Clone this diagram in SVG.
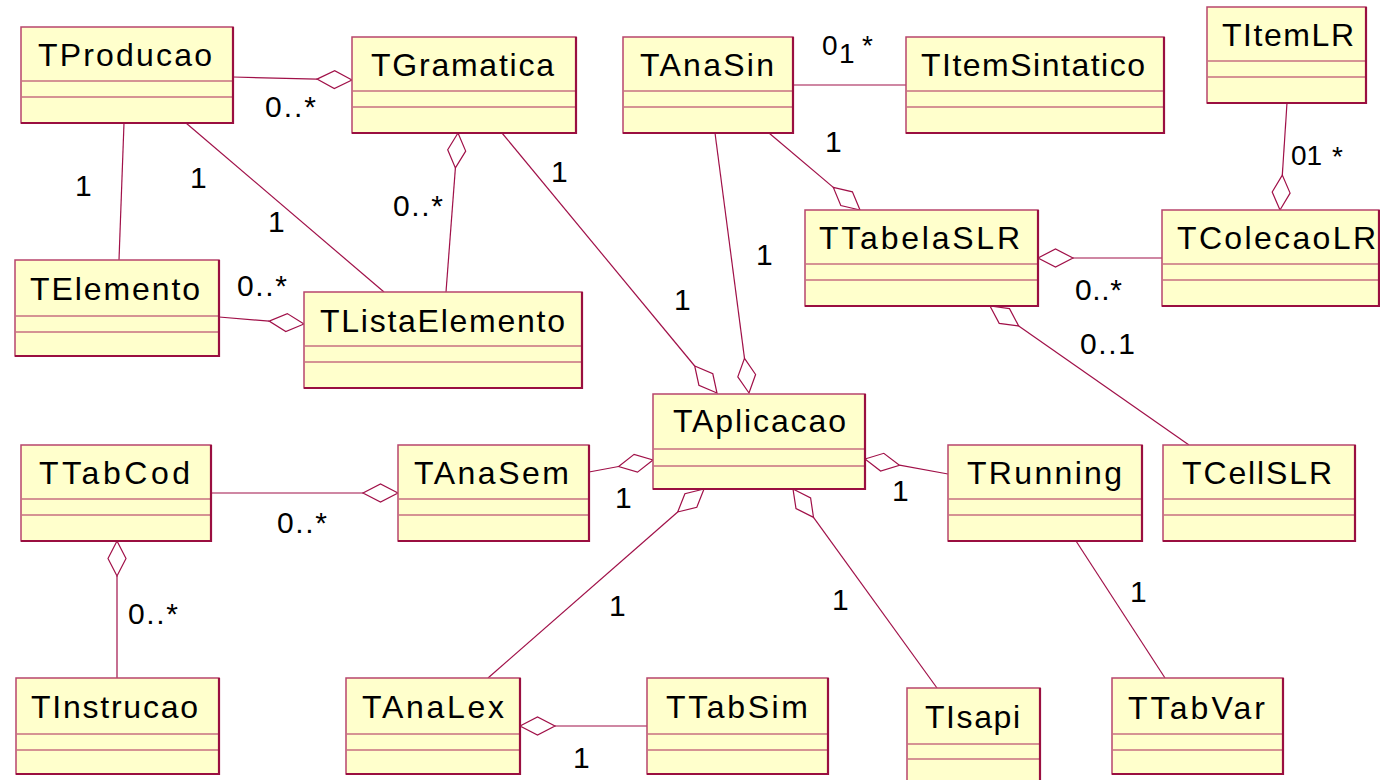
<svg xmlns="http://www.w3.org/2000/svg" width="1380" height="780" viewBox="0 0 1380 780">
<style>
.box{fill:#FFFFCC;stroke:#B8456C;stroke-width:1.5}
.sh{fill:none;stroke:#9A0F40;stroke-width:2.2}
.cmp{stroke:#C87080;stroke-width:1.5}
.nm{font-family:"Liberation Sans",Arial,sans-serif;font-size:32px;fill:#000}
.ln{stroke:#A01048;stroke-width:1.2;fill:none}
.dia{fill:#fff;stroke:#A01048;stroke-width:1.2}
.lb{font-family:"Liberation Sans",Arial,sans-serif;font-size:30px;fill:#000}
.sm{font-size:28px}
</style>
<rect width="1380" height="780" fill="#fff"/>
<g id="connectors">
<line class="ln" x1="233" y1="77" x2="317" y2="79.1"/><polygon class="dia" points="352,80 334.7,70.6 317,79.1 334.3,88.6"/>
<line class="ln" x1="124" y1="123" x2="119" y2="260"/>
<line class="ln" x1="186" y1="123" x2="384" y2="292"/>
<line class="ln" x1="446" y1="292" x2="455.4" y2="167.9"/><polygon class="dia" points="458,133 465.7,151.1 455.4,167.9 447.7,149.8"/>
<line class="ln" x1="502" y1="133" x2="694.7" y2="366"/><polygon class="dia" points="717,393 698.9,385.2 694.7,366 712.8,373.8"/>
<line class="ln" x1="219" y1="317" x2="269.1" y2="321.1"/><polygon class="dia" points="304,324 287.3,313.6 269.1,321.1 285.8,331.5"/>
<line class="ln" x1="793" y1="85" x2="906" y2="85"/>
<line class="ln" x1="769" y1="133" x2="833.3" y2="187.4"/><polygon class="dia" points="860,210 840.8,205.6 833.3,187.4 852.4,191.8"/>
<line class="ln" x1="715" y1="133" x2="744.5" y2="358.3"/><polygon class="dia" points="749,393 737.8,376.8 744.5,358.3 755.6,374.5"/>
<line class="ln" x1="1287" y1="103" x2="1282.3" y2="175.1"/><polygon class="dia" points="1280,210 1272.2,192 1282.3,175.1 1290.1,193.1"/>
<line class="ln" x1="1162" y1="258" x2="1073" y2="258"/><polygon class="dia" points="1038,258 1055.5,249 1073,258 1055.5,267"/>
<line class="ln" x1="1189" y1="445" x2="1018.7" y2="326"/><polygon class="dia" points="990,306 1009.5,308.6 1018.7,326 999.2,323.4"/>
<line class="ln" x1="589" y1="472" x2="618.6" y2="466.5"/><polygon class="dia" points="653,460 637.5,472.1 618.6,466.5 634.1,454.4"/>
<line class="ln" x1="211" y1="493" x2="363" y2="493"/><polygon class="dia" points="398,493 380.5,484 363,493 380.5,502"/>
<line class="ln" x1="117" y1="678" x2="117" y2="576"/><polygon class="dia" points="117,541 126,558.5 117,576 108,558.5"/>
<line class="ln" x1="488" y1="678" x2="677.7" y2="512"/><polygon class="dia" points="704,489 696.8,507.3 677.7,512 684.9,493.7"/>
<line class="ln" x1="647" y1="726" x2="555" y2="726"/><polygon class="dia" points="520,726 537.5,717 555,726 537.5,735"/>
<line class="ln" x1="937" y1="688" x2="813.5" y2="517.4"/><polygon class="dia" points="793,489 810.6,497.9 813.5,517.4 796,508.5"/>
<line class="ln" x1="948" y1="474" x2="899.5" y2="465.2"/><polygon class="dia" points="865,459 883.8,453.3 899.5,465.2 880.6,471"/>
<line class="ln" x1="1076" y1="541" x2="1165" y2="678"/>
</g>
<g id="labels">
<text class="lb" x="265" y="117" textLength="51" lengthAdjust="spacing">0..*</text>
<text class="lb" x="75" y="196">1</text>
<text class="lb" x="190" y="188">1</text>
<text class="lb" x="268" y="232">1</text>
<text class="lb" x="393" y="216" textLength="50" lengthAdjust="spacing">0..*</text>
<text class="lb" x="551" y="182">1</text>
<text class="lb" x="237" y="296" textLength="50" lengthAdjust="spacing">0..*</text>
<text class="lb sm" x="822" y="55">0</text>
<text class="lb sm" x="839" y="63">1</text>
<text class="lb sm" x="862" y="55">*</text>
<text class="lb" x="825" y="152">1</text>
<text class="lb" x="756" y="265">1</text>
<text class="lb" x="674" y="310">1</text>
<text class="lb sm" x="1291" y="165">01</text>
<text class="lb sm" x="1332" y="166">*</text>
<text class="lb" x="1075" y="300" textLength="47" lengthAdjust="spacing">0..*</text>
<text class="lb" x="1080" y="354" textLength="55" lengthAdjust="spacing">0..1</text>
<text class="lb" x="615" y="508">1</text>
<text class="lb" x="277" y="533" textLength="50" lengthAdjust="spacing">0..*</text>
<text class="lb" x="128" y="624" textLength="50" lengthAdjust="spacing">0..*</text>
<text class="lb" x="609" y="616">1</text>
<text class="lb" x="573" y="768">1</text>
<text class="lb" x="892" y="501">1</text>
<text class="lb" x="832" y="610">1</text>
<text class="lb" x="1130" y="602">1</text>
</g>
<g id="TProducao" transform="translate(21,27)"><rect class="box" width="212" height="96"/><path class="cmp" d="M0 54H212M0 70H212"/><path class="sh" d="M212 0V96H0"/><text class="nm" x="17" y="39" textLength="174" lengthAdjust="spacing">TProducao</text></g>
<g id="TGramatica" transform="translate(352,37)"><rect class="box" width="224" height="96"/><path class="cmp" d="M0 54H224M0 70H224"/><path class="sh" d="M224 0V96H0"/><text class="nm" x="19" y="39" textLength="183" lengthAdjust="spacing">TGramatica</text></g>
<g id="TElemento" transform="translate(15,260)"><rect class="box" width="204" height="96"/><path class="cmp" d="M0 56H204M0 72H204"/><path class="sh" d="M204 0V96H0"/><text class="nm" x="15" y="40" textLength="170" lengthAdjust="spacing">TElemento</text></g>
<g id="TListaElemento" transform="translate(304,292)"><rect class="box" width="278" height="96"/><path class="cmp" d="M0 54H278M0 70H278"/><path class="sh" d="M278 0V96H0"/><text class="nm" x="16" y="40" textLength="245" lengthAdjust="spacing">TListaElemento</text></g>
<g id="TAnaSin" transform="translate(623,37)"><rect class="box" width="170" height="96"/><path class="cmp" d="M0 54H170M0 70H170"/><path class="sh" d="M170 0V96H0"/><text class="nm" x="17" y="39" textLength="134" lengthAdjust="spacing">TAnaSin</text></g>
<g id="TItemSintatico" transform="translate(906,37)"><rect class="box" width="258" height="96"/><path class="cmp" d="M0 54H258M0 70H258"/><path class="sh" d="M258 0V96H0"/><text class="nm" x="15" y="39" textLength="224" lengthAdjust="spacing">TItemSintatico</text></g>
<g id="TItemLR" transform="translate(1207,7)"><rect class="box" width="159" height="96"/><path class="cmp" d="M0 54H159M0 70H159"/><path class="sh" d="M159 0V96H0"/><text class="nm" x="15" y="39" textLength="132" lengthAdjust="spacing">TItemLR</text></g>
<g id="TTabelaSLR" transform="translate(805,210)"><rect class="box" width="233" height="96"/><path class="cmp" d="M0 54H233M0 70H233"/><path class="sh" d="M233 0V96H0"/><text class="nm" x="14" y="39" textLength="201" lengthAdjust="spacing">TTabelaSLR</text></g>
<g id="TColecaoLR" transform="translate(1162,210)"><rect class="box" width="217" height="96"/><path class="cmp" d="M0 54H217M0 70H217"/><path class="sh" d="M217 0V96H0"/><text class="nm" x="15" y="39" textLength="199" lengthAdjust="spacing">TColecaoLR</text></g>
<g id="TAplicacao" transform="translate(653,394)"><rect class="box" width="212" height="95"/><path class="cmp" d="M0 55H212M0 72H212"/><path class="sh" d="M212 0V95H0"/><text class="nm" x="20" y="38" textLength="173" lengthAdjust="spacing">TAplicacao</text></g>
<g id="TTabCod" transform="translate(21,445)"><rect class="box" width="190" height="96"/><path class="cmp" d="M0 54H190M0 70H190"/><path class="sh" d="M190 0V96H0"/><text class="nm" x="18" y="39" textLength="151" lengthAdjust="spacing">TTabCod</text></g>
<g id="TAnaSem" transform="translate(398,445)"><rect class="box" width="191" height="96"/><path class="cmp" d="M0 54H191M0 70H191"/><path class="sh" d="M191 0V96H0"/><text class="nm" x="16" y="39" textLength="155" lengthAdjust="spacing">TAnaSem</text></g>
<g id="TRunning" transform="translate(948,445)"><rect class="box" width="194" height="96"/><path class="cmp" d="M0 54H194M0 70H194"/><path class="sh" d="M194 0V96H0"/><text class="nm" x="19" y="39" textLength="155" lengthAdjust="spacing">TRunning</text></g>
<g id="TCellSLR" transform="translate(1163,445)"><rect class="box" width="192" height="96"/><path class="cmp" d="M0 54H192M0 70H192"/><path class="sh" d="M192 0V96H0"/><text class="nm" x="19" y="39" textLength="150" lengthAdjust="spacing">TCellSLR</text></g>
<g id="TInstrucao" transform="translate(16,678)"><rect class="box" width="203" height="96"/><path class="cmp" d="M0 56H203M0 72H203"/><path class="sh" d="M203 0V96H0"/><text class="nm" x="15" y="40" textLength="167" lengthAdjust="spacing">TInstrucao</text></g>
<g id="TAnaLex" transform="translate(346,678)"><rect class="box" width="174" height="96"/><path class="cmp" d="M0 56H174M0 72H174"/><path class="sh" d="M174 0V96H0"/><text class="nm" x="16" y="40" textLength="142" lengthAdjust="spacing">TAnaLex</text></g>
<g id="TTabSim" transform="translate(647,678)"><rect class="box" width="181" height="96"/><path class="cmp" d="M0 56H181M0 72H181"/><path class="sh" d="M181 0V96H0"/><text class="nm" x="19" y="40" textLength="142" lengthAdjust="spacing">TTabSim</text></g>
<g id="TIsapi" transform="translate(907,688)"><rect class="box" width="133" height="100"/><path class="cmp" d="M0 56H133M0 71H133"/><path class="sh" d="M133 0V100"/><text class="nm" x="18" y="40" textLength="95" lengthAdjust="spacing">TIsapi</text></g>
<g id="TTabVar" transform="translate(1112,678)"><rect class="box" width="171" height="96"/><path class="cmp" d="M0 56H171M0 72H171"/><path class="sh" d="M171 0V96H0"/><text class="nm" x="16" y="41" textLength="137" lengthAdjust="spacing">TTabVar</text></g>
</svg>
